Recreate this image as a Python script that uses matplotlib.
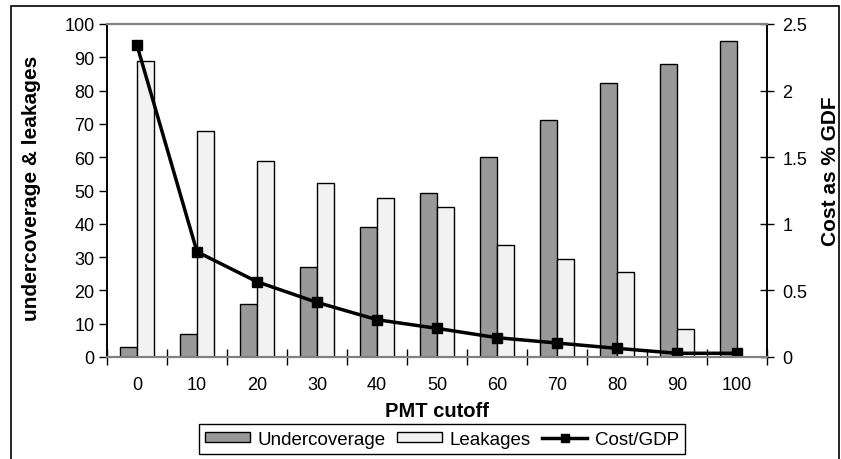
import matplotlib.pyplot as plt
from matplotlib.lines import Line2D
from matplotlib.patches import Patch, Rectangle

plt.rcParams['font.family'] = ['Liberation Sans', 'DejaVu Sans']
plt.rcParams['font.size'] = 13

# data
cutoffs = [0, 10, 20, 30, 40, 50, 60, 70, 80, 90, 100]
undercoverage = [3, 7, 16, 27, 39, 49.2, 60, 71.2, 82.2, 88, 94.8]
leakages = [89, 68, 59, 52.3, 47.6, 45, 33.5, 29.3, 25.5, 8.3, 0]
cost_gdp = [2.34, 0.79, 0.565, 0.41, 0.28, 0.215, 0.145, 0.105, 0.065, 0.028, 0.028]

fig = plt.figure(figsize=(8.41, 4.60), dpi=100)
ax_l, ax_t, ax_w, ax_h = 107, 25, 660, 333  # plot area in pixels
ax = fig.add_axes([ax_l/841, 1-(ax_t+ax_h)/460, ax_w/841, ax_h/460])
ax2 = ax.twinx()

pos = list(range(len(cutoffs)))
w = 0.29
ax.bar([p - w for p in pos], undercoverage, width=w, align='edge',
       color='#999999', edgecolor='black', linewidth=1)
ax.bar(pos, leakages, width=w, align='edge',
       color='#f2f2f2', edgecolor='black', linewidth=1)

ax2.plot(pos, cost_gdp, color='black', linewidth=2.5, marker='s', markersize=7)

ax.set_xlim(-0.5, len(cutoffs) - 0.5)
ax.set_ylim(0, 100)
ax2.set_ylim(0, 2.5)

ax.set_xticks(pos)
ax.set_xticklabels([str(c) for c in cutoffs])
ax.tick_params(axis='x', which='major', length=0, pad=14)
ax.set_xticks([p - 0.5 for p in pos] + [len(cutoffs) - 0.5], minor=True)
ax.tick_params(axis='x', which='minor', length=11, direction='inout', width=1)

ax.set_yticks(range(0, 101, 10))
ax.tick_params(axis='y', length=6, direction='out', width=1, pad=3)
ax2.set_yticks([0, 0.5, 1, 1.5, 2, 2.5])
ax2.set_yticklabels(['0', '0.5', '1', '1.5', '2', '2.5'])
ax2.tick_params(axis='y', length=10, direction='inout', width=1, pad=6)

for a in (ax, ax2):
    a.spines['top'].set_color('#808080')
    a.spines['top'].set_linewidth(1.5)
    a.spines['bottom'].set_color('#808080')
    a.spines['bottom'].set_linewidth(1.5)
    a.spines['left'].set_linewidth(1.2)
    a.spines['right'].set_linewidth(1.2)

ax.set_xlabel('PMT cutoff', fontweight='bold', fontsize=14.5, va='center')
ax.xaxis.set_label_coords((437-ax_l)/ax_w, -(412-ax_t-ax_h)/ax_h)
ax.set_ylabel('undercoverage & leakages', fontweight='bold', fontsize=15, va='center')
ax.yaxis.set_label_coords((32-ax_l)/ax_w, 1-(188-ax_t)/ax_h)
ax2.set_ylabel('Cost as % GDF', fontweight='bold', fontsize=15, va='center')
ax2.yaxis.set_label_coords((830-ax_l)/ax_w, 1-(171-ax_t)/ax_h)

handles = [Patch(facecolor='#999999', edgecolor='black'),
           Patch(facecolor='#f2f2f2', edgecolor='black'),
           Line2D([], [], color='black', linewidth=2.5, marker='s', markersize=6)]
leg = fig.legend(handles, ['Undercoverage', 'Leakages', 'Cost/GDP'],
                 loc='upper center', bbox_to_anchor=(442/841, 1-425/460),
                 ncol=3, fancybox=False, framealpha=1, edgecolor='black',
                 fontsize=13.5, handlelength=2.4, handleheight=0.5,
                 handletextpad=0.4, columnspacing=0.6,
                 borderaxespad=0, borderpad=0.35)
leg.get_frame().set_linewidth(1)

# outer chart border
fig.patches.append(Rectangle((11/841, -0.1), (839-11)/841, 1.1 - 7/460,
                             transform=fig.transFigure, fill=False,
                             edgecolor='black', linewidth=1.2))

fig.savefig('out.png', dpi=100)
